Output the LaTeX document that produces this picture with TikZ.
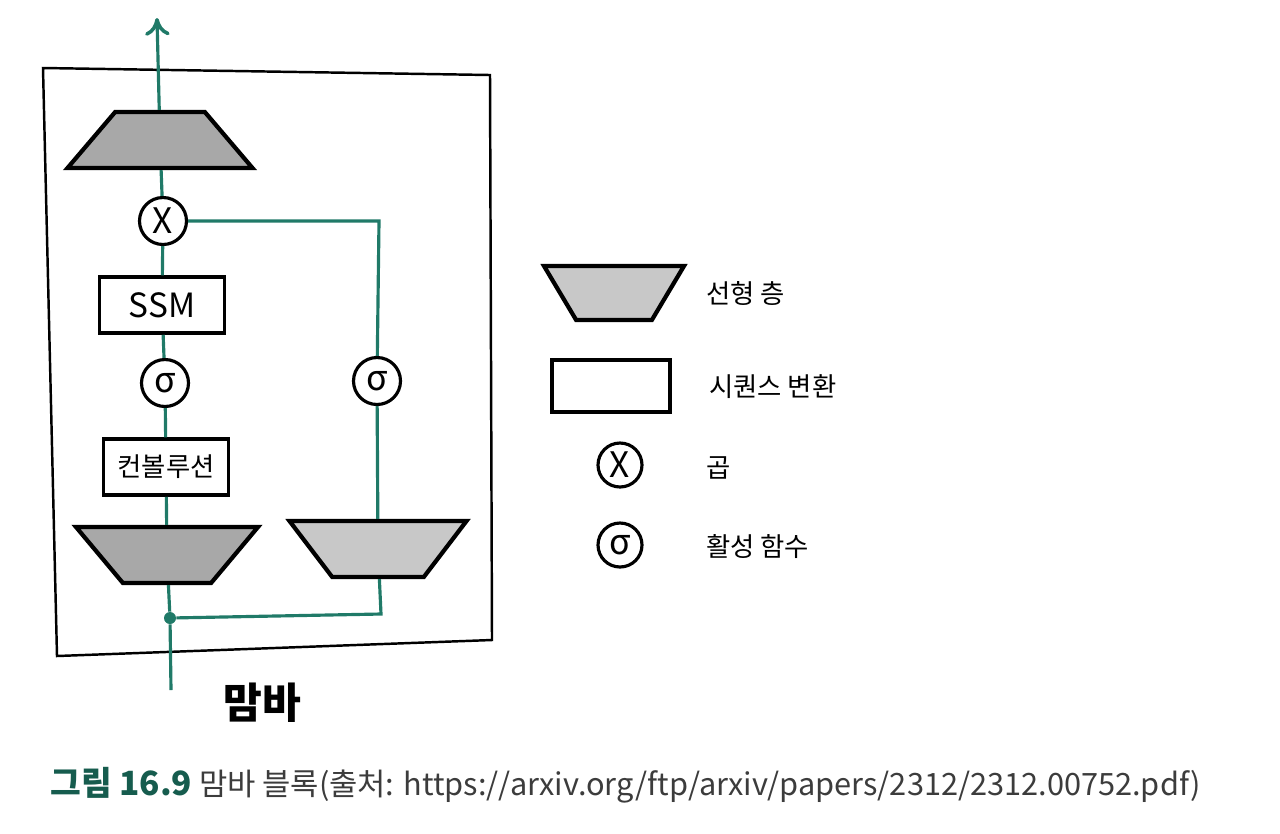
\documentclass[tikz,border=0pt]{standalone}
\usepackage{fontspec}
\setmainfont{Noto Sans CJK KR}
\usetikzlibrary{shapes.geometric,arrows.meta}

\definecolor{mambaline}{RGB}{32,122,104}
\definecolor{captiongreen}{RGB}{22,92,78}
\definecolor{darkfill}{RGB}{168,168,168}
\definecolor{lightfill}{RGB}{200,200,200}
\definecolor{captiongray}{RGB}{60,60,60}

\begin{document}
\begin{tikzpicture}[
    x = 0.02cm,
    y = -0.02cm,
    flow/.style = {
      mambaline,
      line width = 1.8pt
    },
    linear/.style = {
      draw,
      trapezium,
      trapezium stretches,
      line width = 2.4pt,
      inner sep = 1pt,
      minimum height = 1.12cm,
      fill = darkfill
    },
    seqbox/.style = {
      draw,
      rectangle,
      line width = 2pt,
      inner sep = 0pt,
      minimum width = 2.5cm,
      minimum height = 1.12cm
    },
    op/.style = {
      draw,
      circle,
      fill = white,
      line width = 1.8pt,
      inner sep = 0pt,
      minimum size = 0.94cm,
      font = \fontsize{20}{20}\selectfont
    },
    legendtext/.style = {
      anchor = west,
      font = \fontsize{15}{15}\selectfont
    }
  ]
  \useasboundingbox (0,0) rectangle (1280,833);

  % outer block
  \draw[line width = 1.4pt] (43,68) -- (490,75) -- (492,640) -- (57,656) -- cycle;

  % main path
  \coordinate (out) at (157,18);
  \coordinate (in) at (171,690);
  \node[linear, minimum width = 3.7cm, trapezium angle = 62] (toplin) at (160,140) {};
  \node[op] (mul) at (163,221) {X};
  \node[seqbox, font = \fontsize{19}{19}\selectfont] (ssm) at (162,305) {SSM};
  \node[op] (sigL) at (165,383) {σ};
  \node[seqbox, font = \fontsize{15}{15}\selectfont] (conv) at (166,467) {컨볼루션};
  \node[linear, shape border rotate = 180, minimum width = 3.64cm, trapezium angle = 62] (linL) at (167,555) {};
  \node[circle, fill = mambaline, inner sep = 0pt, minimum size = 0.24cm] (split) at (170,618) {};

  % gate path
  \node[op] (sigR) at (377,381) {σ};
  \node[linear, shape border rotate = 180, fill = lightfill, minimum width = 3.54cm, trapezium angle = 65] (linR) at (378,549) {};
  \coordinate (turnT) at (379,221);
  \coordinate (turnB) at (381,614);

  \draw[flow, -{To[length = 10pt, width = 14pt, line width = 2pt]}] (toplin) -- (out);
  \draw[flow] (mul) -- (toplin);
  \draw[flow] (ssm) -- (mul);
  \draw[flow] (sigL) -- (ssm);
  \draw[flow] (conv) -- (sigL);
  \draw[flow] (linL) -- (conv);
  \draw[flow] (split) -- (linL);
  \draw[flow] (in) -- (split);

  \draw[flow] (mul) -- (turnT) -- (sigR);
  \draw[flow] (sigR) -- (linR);
  \draw[flow] (split) -- (turnB) -- (linR);

  \node[font = \fontsize{24}{24}\selectfont\bfseries] (name) at (262,703) {맘바};

  % legend
  \node[linear, shape border rotate = 180, fill = lightfill, minimum width = 2.8cm, minimum height = 1.08cm, trapezium angle = 67] (keylin) at (614,293) {};
  \node[seqbox, minimum width = 2.36cm, minimum height = 1.04cm] (keyseq) at (611,386) {};
  \node[op, minimum size = 0.88cm] (keymul) at (620,465) {X};
  \node[op, minimum size = 0.88cm] (keysig) at (620,545) {σ};
  \node[legendtext] (keylintext) at (700,293) {선형 층};
  \node[legendtext] (keyseqtext) at (703,387) {시퀀스 변환};
  \node[legendtext] (keymultext) at (700,468) {곱};
  \node[legendtext] (keysigtext) at (700,547) {활성 함수};

  % caption
  \node[anchor = west, inner sep = 0pt, font = \fontsize{17.5}{17.5}\selectfont] (caption) at (50,785)
    {\textcolor{captiongreen}{\fontsize{19}{19}\selectfont\bfseries 그림 16.9}\ \textcolor{captiongray}{맘바 블록(출처: https://arxiv.org/ftp/arxiv/papers/2312/2312.00752.pdf)}};
\end{tikzpicture}
\end{document}
